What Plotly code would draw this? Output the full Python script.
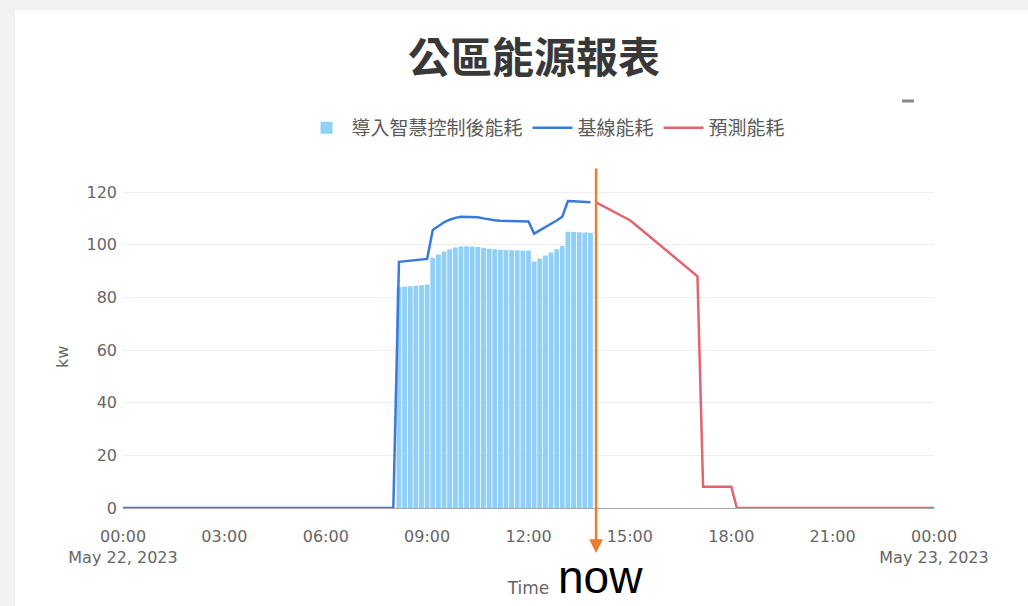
import plotly.graph_objects as go

DAY = "2023-05-22"

# 10-minute samples with smart control (bars)
bar_times = ["08:10", "08:20", "08:30", "08:40", "08:50", "09:00",
             "09:10", "09:20", "09:30", "09:40", "09:50", "10:00",
             "10:10", "10:20", "10:30", "10:40", "10:50", "11:00",
             "11:10", "11:20", "11:30", "11:40", "11:50", "12:00",
             "12:10", "12:20", "12:30", "12:40", "12:50", "13:00",
             "13:10", "13:20", "13:30", "13:40", "13:50"]
bar_values = [83.8, 84.0, 84.2, 84.4, 84.6, 84.9,
              95.0, 96.3, 97.4, 98.3, 98.9, 99.3,
              99.4, 99.3, 99.1, 98.8, 98.5, 98.3,
              98.1, 98.0, 97.9, 97.9, 97.8, 97.8,
              93.6, 94.8, 95.9, 97.0, 98.3, 99.5,
              104.9, 104.8, 104.7, 104.6, 104.5]

# baseline consumption (blue line)
baseline_times = ["00:00", "08:00", "08:10", "08:20", "08:30", "08:40", "08:50", "09:00",
                  "09:10", "09:20", "09:30", "09:40", "09:50", "10:00",
                  "10:10", "10:20", "10:30", "10:40", "10:50", "11:00",
                  "11:10", "11:20", "11:30", "11:40", "11:50", "12:00",
                  "12:10", "12:20", "12:30", "12:40", "12:50", "13:00",
                  "13:10", "13:20", "13:30", "13:40", "13:50"]
baseline_values = [0, 0, 93.5, 93.7, 93.9, 94.1, 94.3, 94.6,
                   105.6, 107.2, 108.5, 109.5, 110.2, 110.6,
                   110.6, 110.6, 110.4, 110.0, 109.6, 109.3,
                   109.1, 109.0, 109.0, 108.9, 108.9, 108.8,
                   104.2, 105.4, 106.6, 107.9, 109.2, 110.6,
                   116.6, 116.5, 116.4, 116.2, 116.1]

# predicted consumption (red line)
predicted_times = ["2023-05-22 14:00", "2023-05-22 15:00", "2023-05-22 15:10",
                   "2023-05-22 17:00", "2023-05-22 17:10", "2023-05-22 18:00",
                   "2023-05-22 18:10", "2023-05-23 00:00"]
predicted_values = [116.1, 109.3, 107.6, 88.0, 8.1, 8.1, 0, 0]

now_time = "2023-05-22 14:00"
x_range = ["2023-05-22 00:00", "2023-05-23 00:00"]
y_ticks = [0, 20, 40, 60, 80, 100, 120]

bar_x = [f"{DAY} {t}" for t in bar_times]
base_x = [f"{DAY} {t}" for t in baseline_times]

fig = go.Figure()
fig.add_trace(go.Bar(
    x=bar_x, y=bar_values, name="導入智慧控制後能耗",
    marker=dict(color="#91d0f6", line=dict(width=0)),
    width=10 * 60 * 1000 * 0.86,
))
fig.add_trace(go.Scatter(
    x=base_x, y=baseline_values, name="基線能耗", mode="lines",
    line=dict(color="#3a7ad9", width=2.5),
))
fig.add_trace(go.Scatter(
    x=predicted_times, y=predicted_values, name="預測能耗", mode="lines",
    line=dict(color="#e2646f", width=2.5),
))

L, R, T, B = 123, 94, 175, 98
PW, PH = 1028 - L - R, 606 - T - B

def px(xp):
    return (xp - L) / PW

def py(yp):
    return (606 - B - yp) / PH

shapes = [
    # white card over light grey page
    dict(type="rect", xref="paper", yref="paper", x0=px(15), x1=px(1030),
         y0=py(10), y1=py(610), fillcolor="white", line=dict(width=0), layer="below"),
    # small dash at top right
    dict(type="line", xref="paper", yref="paper", x0=px(902), x1=px(914),
         y0=py(101), y1=py(101), line=dict(color="#8a8a8a", width=3)),
]

annotations = [
    dict(x=now_time, y=py(553), xref="x", yref="paper", text="",
         showarrow=True, ax=0, ay=-386, arrowhead=2, arrowsize=1.1,
         arrowwidth=2.5, arrowcolor="#ee7d2f"),
    dict(x=now_time, y=py(577), xref="x", yref="paper", text="now",
         showarrow=False, xanchor="center", yanchor="middle", xshift=4,
         font=dict(family="Liberation Sans, Arial", size=46, color="black")),
    dict(x=px(62), y=py(357), xref="paper", yref="paper", text="kw",
         showarrow=False, textangle=-90, xanchor="center", yanchor="middle",
         font=dict(family="DejaVu Sans", size=16, color="#666")),
]

fig.update_layout(
    width=1028, height=606,
    margin=dict(l=L, r=R, t=T, b=B),
    paper_bgcolor="#f2f2f2", plot_bgcolor="white",
    font=dict(family="DejaVu Sans, Noto Sans CJK TC", color="#666"),
    title=dict(text="公區能源報表", x=534 / 1028, xanchor="center",
               y=1 - 58 / 606, yanchor="middle", yref="container",
               font=dict(family="Noto Sans CJK TC", size=42, color="#383838", weight="bold")),
    legend=dict(orientation="h", x=px(546), xanchor="center", y=py(128),
                yanchor="middle", bgcolor="rgba(0,0,0,0)", itemwidth=40,
                font=dict(family="Noto Sans CJK TC", size=19, color="#5a5a5a")),
    bargap=0.16,
    showlegend=True,
    shapes=shapes,
    annotations=annotations,
)
fig.update_xaxes(
    range=x_range, type="date", dtick=3 * 3600 * 1000,
    showgrid=False, zeroline=False, showline=True, linecolor="#a8a8a8", linewidth=1.2,
    tickfont=dict(size=16, color="#666"), ticklabelstandoff=14,
    title=dict(text="Time", font=dict(size=17, color="#666"), standoff=16),
)
fig.update_yaxes(
    range=[0, (508 - 175) / 2.633], tickvals=y_ticks,
    showgrid=True, gridcolor="#eeeeee", zeroline=False,
    tickfont=dict(size=16, color="#666"), ticklabelstandoff=5,
)

fig.write_html("out.html")
